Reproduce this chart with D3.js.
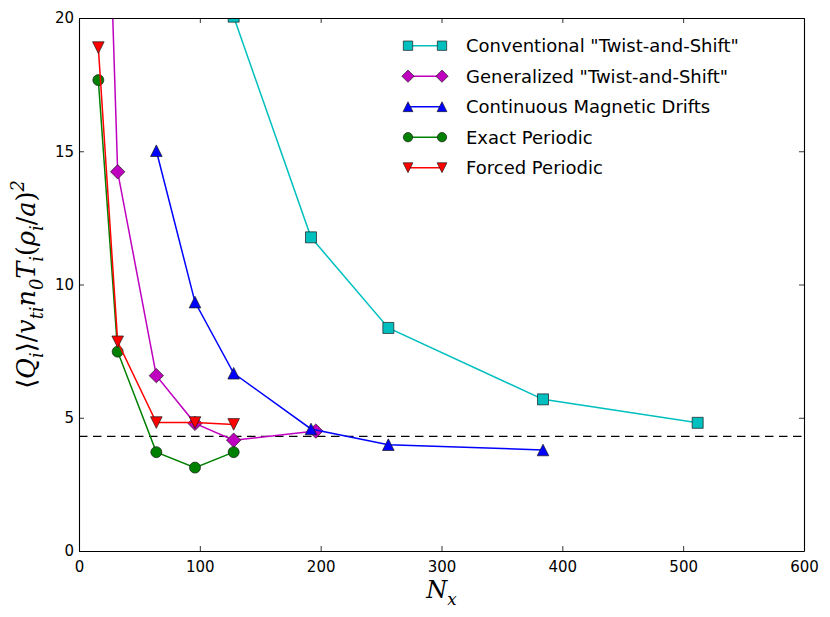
<!DOCTYPE html>
<html>
<head>
<meta charset="utf-8">
<script src="https://cdn.jsdelivr.net/npm/d3@7"></script>
<style>
  body { margin: 0; background: #fff; }
  svg { display: block; }
</style>
</head>
<body>
<div id="chart-area"></div>
<script>
// values
let nxConventional = [128, 192, 256, 384, 512];
let qConventional = [20.05, 11.77, 8.37, 5.69, 4.81];
let nxGeneralized = [16, 32, 64, 96, 128, 196];
let qGeneralized = [37, 14.23, 6.58, 4.79, 4.16, 4.5];
let nxContinuous = [64, 96, 128, 192, 256, 384];
let qContinuous = [15.02, 9.34, 6.67, 4.58, 3.99, 3.79];
let nxExact = [16, 32, 64, 96, 128];
let qExact = [17.67, 7.48, 3.71, 3.13, 3.71];
let nxForced = [16, 32, 64, 96, 128];
let qForced = [18.89, 7.85, 4.82, 4.82, 4.75];
let referenceQ = 4.3;

let seriesNames = [
    'Conventional "Twist-and-Shift"',
    'Generalized "Twist-and-Shift"',
    "Continuous Magnetic Drifts",
    "Exact Periodic",
    "Forced Periodic"
];
let xTicks = [0, 100, 200, 300, 400, 500, 600];
let yTicks = [0, 5, 10, 15, 20];

const drawChart = () => {
    let width = 830;
    let height = 617;
    let left = 79, right = 804, top = 18, bottom = 551;

    let series = [
        { name: seriesNames[0], x: nxConventional, y: qConventional, color: "#00bfbf", shape: "square" },
        { name: seriesNames[1], x: nxGeneralized, y: qGeneralized, color: "#bf00bf", shape: "diamond" },
        { name: seriesNames[2], x: nxContinuous, y: qContinuous, color: "#0000ff", shape: "up" },
        { name: seriesNames[3], x: nxExact, y: qExact, color: "#008000", shape: "circle" },
        { name: seriesNames[4], x: nxForced, y: qForced, color: "#ff0000", shape: "down" }
    ];

    //scales
    let xScale = d3.scaleLinear()
        .domain([0, 600])
        .range([left, right]);

    let yScale = d3.scaleLinear()
        .domain([0, 20])
        .range([bottom, top]);

    // marker outlines, centred on 0,0
    const markerPath = (shape) => {
        if (shape === "square") {
            let s = 5.5;
            return "M" + (-s) + "," + (-s) + "H" + s + "V" + s + "H" + (-s) + "Z";
        }
        if (shape === "diamond") {
            let s = 7.2;
            return "M0," + (-s) + "L" + s + ",0L0," + s + "L" + (-s) + ",0Z";
        }
        if (shape === "up") {
            let s = 5.8;
            return "M0," + (-s) + "L" + s + "," + s + "L" + (-s) + "," + s + "Z";
        }
        if (shape === "down") {
            let s = 5.8;
            return "M0," + s + "L" + s + "," + (-s) + "L" + (-s) + "," + (-s) + "Z";
        }
        let r = 5.5;
        return "M" + r + ",0A" + r + "," + r + " 0 1,1 " + (-r) + ",0A" + r + "," + r + " 0 1,1 " + r + ",0Z";
    };

    //create svg element
    let svg = d3.select("#chart-area")
        .append("svg")
        .attr("width", width)
        .attr("height", height)
        .style("font-family", "'DejaVu Sans', sans-serif");

    svg.append("defs")
        .append("clipPath")
        .attr("id", "plot-clip")
        .append("rect")
        .attr("x", left)
        .attr("y", top)
        .attr("width", right - left)
        .attr("height", bottom - top);

    let plot = svg.append("g").attr("clip-path", "url(#plot-clip)");

    // dashed reference level
    plot.append("line")
        .attr("x1", xScale(0))
        .attr("x2", xScale(600))
        .attr("y1", yScale(referenceQ))
        .attr("y2", yScale(referenceQ))
        .attr("stroke", "#000")
        .attr("stroke-width", 1.4)
        .attr("stroke-dasharray", "8.5,5.5");

    let line = d3.line()
        .x(d => xScale(d[0]))
        .y(d => yScale(d[1]));

    series.forEach(s => {
        let pts = s.x.map((v, i) => [v, s.y[i]]);
        let g = plot.append("g");
        g.append("path")
            .datum(pts)
            .attr("d", line)
            .attr("fill", "none")
            .attr("stroke", s.color)
            .attr("stroke-width", 1.5);
        g.selectAll("path.marker")
            .data(pts)
            .enter()
            .append("path")
            .attr("class", "marker")
            .attr("d", markerPath(s.shape))
            .attr("transform", d => "translate(" + xScale(d[0]) + "," + yScale(d[1]) + ")")
            .attr("fill", s.color)
            .attr("stroke", "#1a1a1a")
            .attr("stroke-width", 0.7);
    });

    //axes, ticks pointing inwards on all four sides
    let xAxis = d3.axisBottom(xScale).tickValues(xTicks).tickSizeInner(-5).tickSizeOuter(0).tickPadding(10);
    let yAxis = d3.axisLeft(yScale).tickValues(yTicks).tickSizeInner(-5).tickSizeOuter(0).tickPadding(5);
    let xTop = d3.axisTop(xScale).tickValues(xTicks).tickSizeInner(-5).tickSizeOuter(0).tickFormat("");
    let yRight = d3.axisRight(yScale).tickValues(yTicks).tickSizeInner(-5).tickSizeOuter(0).tickFormat("");

    let axes = [
        svg.append("g").attr("transform", "translate(0," + bottom + ")").call(xAxis),
        svg.append("g").attr("transform", "translate(" + left + ",0)").call(yAxis),
        svg.append("g").attr("transform", "translate(0," + top + ")").call(xTop),
        svg.append("g").attr("transform", "translate(" + right + ",0)").call(yRight)
    ];
    axes.forEach(a => {
        a.select(".domain").attr("stroke", "#000").attr("stroke-width", 1.1);
        a.selectAll(".tick line").attr("stroke", "#000").attr("stroke-width", 0.8);
        a.selectAll(".tick text")
            .attr("fill", "#000")
            .attr("font-size", "15px")
            .attr("font-family", "'DejaVu Sans', sans-serif");
    });

    // legend, no frame
    let legend = svg.append("g");
    series.forEach((s, i) => {
        let rowY = 45.7 + i * 30.5;
        legend.append("line")
            .attr("x1", 408)
            .attr("x2", 442)
            .attr("y1", rowY)
            .attr("y2", rowY)
            .attr("stroke", s.color)
            .attr("stroke-width", 1.5);
        [408, 442].forEach(mx => {
            legend.append("path")
                .attr("d", markerPath(s.shape))
                .attr("transform", "translate(" + mx + "," + rowY + ") scale(0.85)")
                .attr("fill", s.color)
                .attr("stroke", "#1a1a1a")
                .attr("stroke-width", 0.8);
        });
        legend.append("text")
            .attr("x", 466)
            .attr("y", rowY)
            .attr("dy", "0.36em")
            .attr("font-size", "18px")
            .attr("fill", "#000")
            .text(s.name);
    });

    // math-style labels built from tspans
    const mathText = (node, pieces) => {
        let shift = 0;
        pieces.forEach(p => {
            let want = p[1] === "sub" ? 0.3 : (p[1] === "sup" ? -0.45 : 0);
            let small = p[1] === "sub" || p[1] === "sup";
            let t = node.append("tspan")
                .text(p[0])
                .attr("font-style", p[1] === "up" ? "normal" : "italic")
                .attr("font-size", small ? "70%" : null);
            // dy is relative to the span's own font size
            let base = small ? 0.7 : 1;
            let delta = (want - shift) / base;
            if (delta !== 0) t.attr("dy", delta.toFixed(3) + "em");
            shift = want;
        });
    };

    let yLabel = svg.append("text")
        .attr("transform", "translate(35," + ((top + bottom) / 2) + ") rotate(-90)")
        .attr("text-anchor", "middle")
        .attr("font-family", "'DejaVu Serif', serif")
        .attr("font-size", "25.5px")
        .attr("fill", "#000");
    mathText(yLabel, [
        ["\u27e8", "up"], ["Q", "n"], ["i", "sub"], ["\u27e9", "up"], ["/", "up"],
        ["v", "n"], ["ti", "sub"], ["n", "n"], ["0", "sub"], ["T", "n"], ["i", "sub"],
        ["(", "up"], ["\u03c1", "n"], ["i", "sub"], ["/", "up"], ["a", "n"], [")", "up"], ["2", "sup"]
    ]);

    let xLabel = svg.append("text")
        .attr("x", (left + right) / 2)
        .attr("y", 598)
        .attr("text-anchor", "middle")
        .attr("font-family", "'DejaVu Serif', serif")
        .attr("font-size", "24px")
        .attr("fill", "#000");
    mathText(xLabel, [["N", "n"], ["x", "sub"]]);
};
drawChart();
</script>
</body>
</html>
